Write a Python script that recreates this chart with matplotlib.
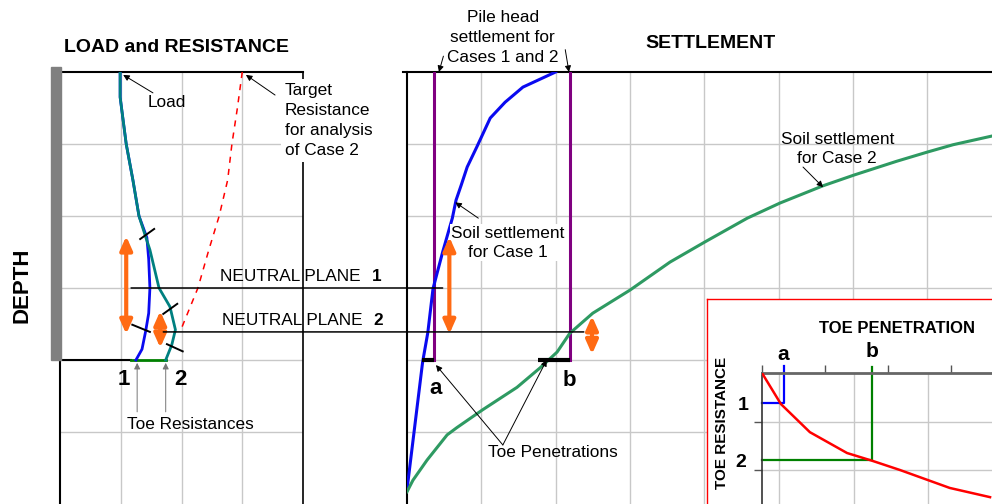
import matplotlib
matplotlib.use("Agg")
import matplotlib.pyplot as plt
from matplotlib.patches import Rectangle, ConnectionPatch

plt.rcParams["font.family"] = ["Liberation Sans", "DejaVu Sans"]

W, H = 992, 504

# depth in grid units: 0 = pile head, 4 = pile toe
# --- LOAD and RESISTANCE panel (x in grid units) ---
load2_depth = [0.0, 0.35, 1.0, 1.5, 2.0, 2.29, 2.47, 3.0, 3.26, 3.58, 3.79, 4.0]
load2 = [0.99, 0.99, 1.09, 1.2, 1.3, 1.41, 1.48, 1.63, 1.81, 1.9, 1.84, 1.74]
load1_depth = [0.0, 0.35, 1.0, 1.5, 2.0, 2.3, 2.6, 3.0, 3.35, 3.6, 3.85, 4.0]
load1 = [0.99, 0.99, 1.09, 1.2, 1.3, 1.43, 1.46, 1.48, 1.46, 1.41, 1.35, 1.25]
target_depth = [0.0, 0.5, 1.0, 1.5, 2.0, 2.47, 3.0, 3.6]
target_res = [3.0, 2.92, 2.83, 2.76, 2.62, 2.45, 2.27, 1.98]
toe_res = [1.17, 1.74]
np_depth = [3.0, 3.61]
np_start = [1.17, 1.70]
np_end = [0.48, 2.38]

# --- SETTLEMENT panel ---
pile_head = [0.37, 2.19]
soil1_depth = [0.0, 0.21, 0.42, 0.64, 1.04, 1.32, 1.57, 1.78, 2.03, 2.5, 3.01, 3.62, 4.03, 5.8]
soil1 = [2.0, 1.56, 1.32, 1.12, 0.94, 0.81, 0.73, 0.66, 0.61, 0.48, 0.35, 0.28, 0.21, 0.0]
soil2_depth = [5.83, 5.67, 5.39, 5.04, 4.94, 4.69, 4.38, 4.11, 3.89, 3.63, 3.35, 3.03,
               2.64, 2.36, 2.03, 1.82, 1.58, 1.43, 1.24, 1.11, 1.01, 0.89]
soil2 = [0.0, 0.08, 0.27, 0.54, 0.67, 1.02, 1.48, 1.79, 2.02, 2.19, 2.50, 3.00,
         3.54, 4.01, 4.58, 5.02, 5.60, 6.02, 6.59, 7.01, 7.35, 7.87]
toe_pen_a = [0.20, 0.37]
toe_pen_b = [1.76, 2.20]

# --- TOE PENETRATION inset ---
pen = [0.0, 0.30, 0.76, 1.35, 1.75, 2.19, 2.98, 3.62]
pen_res = [0.0, 0.64, 1.22, 1.65, 1.81, 2.0, 2.37, 2.56]
pen_a, res_1 = 0.35, 0.62
pen_b, res_2 = 1.75, 1.79

TEAL = "#008080"
BLUE = "#0A0AF0"
GREEN = "#008000"
SEA = "#2E9A62"
PURPLE = "#800080"
ORANGE = "#FF6A13"
GRID = "#C8C8C8"
FS = 12.4


def box(x0, y0, x1, y1):
    """pixel box -> figure fraction rect"""
    return [x0 / W, 1 - y1 / H, (x1 - x0) / W, (y1 - y0) / H]


def thin_arrow(ax, xy, xytext, color="black"):
    ax.annotate("", xy=xy, xytext=xytext,
                arrowprops=dict(arrowstyle="-|>", color=color, lw=0.7,
                                mutation_scale=9, shrinkA=0, shrinkB=0))


def orange_arrow(ax, x, d0, d1):
    ax.annotate("", xy=(x, d1), xytext=(x, d0),
                arrowprops=dict(arrowstyle="<|-|>,head_length=0.45,head_width=0.2",
                                color=ORANGE, lw=3, mutation_scale=18,
                                shrinkA=0, shrinkB=0), zorder=6)


fig = plt.figure(figsize=(W / 100, H / 100), dpi=100)

# ================= LOAD and RESISTANCE =================
ax1 = fig.add_axes(box(60, 72, 303, 504))
ax1.set_xlim(0, 4)
ax1.set_ylim(6, 0)
ax1.set_xticks([1, 2, 3])
ax1.set_yticks([1, 2, 3, 4, 5])
ax1.grid(color=GRID, lw=1)
ax1.tick_params(length=0, labelleft=False, labelbottom=False)
ax1.set_axisbelow(True)
for s in ax1.spines.values():
    s.set_visible(False)

ax1.add_patch(Rectangle((-0.15, -0.07), 0.17, 4.07, color="#808080", clip_on=False, zorder=3))
ax1.plot([0, 4], [0, 0], color="black", lw=1.5, clip_on=False)
ax1.plot([4, 4], [0, 6], color="black", lw=1.2, clip_on=False)
ax1.plot([0, 0], [4, 6], color="black", lw=1.5, clip_on=False)
ax1.plot([0, toe_res[0]], [4, 4], color="black", lw=1.5)
ax1.plot(toe_res, [4, 4], color=GREEN, lw=2)

ax1.plot(target_res, target_depth, color="red", lw=1.1, dashes=(4, 4))
ax1.plot(load1, load1_depth, color=BLUE, lw=2)
ax1.plot(load2, load2_depth, color=TEAL, lw=2)

# short marks on the load curves
for (xa, da), (xb, db) in [((1.32, 2.32), (1.55, 2.18)), ((1.19, 3.51), (1.48, 3.61)),
                           ((1.70, 3.36), (1.93, 3.22)), ((1.76, 3.78), (2.02, 3.88))]:
    ax1.plot([xa, xb], [da, db], color="black", lw=1.4, zorder=5)

orange_arrow(ax1, 1.09, 2.28, 3.64)
orange_arrow(ax1, 1.65, 3.32, 3.83)

ax1.text(1.76, 0.42, "Load", fontsize=FS, ha="center", va="center")
thin_arrow(ax1, (1.04, 0.04), (1.53, 0.29))
ax1.text(3.70, 0.15, "Target\nResistance\nfor analysis\nof Case 2", fontsize=FS,
         ha="left", va="top", linespacing=1.42, zorder=6,
         bbox=dict(facecolor="white", edgecolor="none", pad=3))
thin_arrow(ax1, (3.06, 0.04), (3.54, 0.32))

ax1.text(1.05, 4.27, "1", fontsize=16, fontweight="bold", ha="center", va="center")
ax1.text(1.98, 4.27, "2", fontsize=16, fontweight="bold", ha="center", va="center")
ax1.text(2.14, 4.9, "Toe Resistances", fontsize=FS, ha="center", va="center")
thin_arrow(ax1, (1.27, 4.04), (1.27, 4.72), color="#777777")
thin_arrow(ax1, (1.74, 4.04), (1.74, 4.72), color="#777777")

for d, label, lx in zip(np_depth, ["1", "2"], [2.63, 2.66]):
    ax1.text(lx, d - 0.16, "NEUTRAL PLANE", fontsize=FS, ha="left", va="center")
    ax1.text(lx + 2.5, d - 0.16, label, fontsize=FS, fontweight="bold",
             ha="left", va="center")

# ================= SETTLEMENT =================
ax2 = fig.add_axes(box(407, 72, 992, 504))
ax2.set_xlim(0, 585 / 74.3)
ax2.set_ylim(6, 0)
ax2.set_xticks(range(1, 8))
ax2.set_yticks([1, 2, 3, 4, 5])
ax2.grid(color=GRID, lw=1)
ax2.tick_params(length=0, labelleft=False, labelbottom=False)
ax2.set_axisbelow(True)
for s in ax2.spines.values():
    s.set_visible(False)

ax2.plot([-0.05, 585 / 74.3], [0, 0], color="black", lw=1.5, clip_on=False)
ax2.plot([0, 0], [0, 6], color="black", lw=1.5, clip_on=False)

for x in pile_head:
    ax2.plot([x, x], [0, 4], color=PURPLE, lw=2.2)
ax2.plot(soil1, soil1_depth, color=BLUE, lw=2.2)
ax2.plot(soil2, soil2_depth, color=SEA, lw=2.2)
ax2.plot(toe_pen_a, [4, 4], color="black", lw=3, solid_capstyle="butt", zorder=4)
ax2.plot(toe_pen_b, [4, 4], color="black", lw=3, solid_capstyle="butt", zorder=4)

orange_arrow(ax2, 0.57, 2.29, 3.64)
orange_arrow(ax2, 2.49, 3.39, 3.92)

ax2.text(1.29, -0.48, "Pile head\nsettlement for\nCases 1 and 2", fontsize=FS,
         ha="center", va="center", linespacing=1.42)
thin_arrow(ax2, (0.43, 0.0), (0.49, -0.22))
thin_arrow(ax2, (2.18, 0.0), (2.13, -0.31))

ax2.text(1.36, 2.37, "Soil settlement\nfor Case 1", fontsize=FS, ha="center",
         va="center", linespacing=1.32, zorder=5,
         bbox=dict(facecolor="white", edgecolor="none", pad=1))
thin_arrow(ax2, (0.65, 1.81), (0.96, 2.03))

ax2.text(5.79, 1.07, "Soil settlement\nfor Case 2", fontsize=FS, ha="center",
         va="center", linespacing=1.32)
thin_arrow(ax2, (5.60, 1.60), (5.33, 1.32))

ax2.text(1.97, 5.29, "Toe Penetrations", fontsize=FS, ha="center", va="center")
thin_arrow(ax2, (0.39, 4.07), (1.29, 5.18))
thin_arrow(ax2, (1.88, 4.0), (1.29, 5.18))

ax2.text(0.39, 4.40, "a", fontsize=16, fontweight="bold", ha="center", va="center")
ax2.text(2.18, 4.29, "b", fontsize=16, fontweight="bold", ha="center", va="center")

# neutral plane lines from the load panel into the settlement panel
for d, x0, x1 in zip(np_depth, np_start, np_end):
    con = ConnectionPatch(xyA=(x0, d), coordsA=ax1.transData,
                          xyB=(x1, d), coordsB=ax2.transData,
                          color="black", lw=1.1, zorder=5)
    fig.add_artist(con)

# ================= TOE PENETRATION inset =================
frame = fig.add_axes(box(707, 299, 1010, 520), zorder=4)
frame.set_facecolor("white")
frame.set_xticks([])
frame.set_yticks([])
for s in frame.spines.values():
    s.set_color("red")
    s.set_linewidth(1)

ax3 = fig.add_axes(box(762, 373, 992, 504), zorder=5)
ax3.set_facecolor("none")
ax3.set_xlim(0, 230 / 63)
ax3.set_ylim(131 / 48.5, 0)
ax3.xaxis.tick_top()
ax3.set_xticks([0, 1, 2, 3])
ax3.set_yticks([1, 2])
ax3.tick_params(axis="both", direction="out", length=6, width=1, color="#555555",
                labeltop=False, labelleft=False, labelbottom=False)
ax3.spines["bottom"].set_visible(False)
ax3.spines["right"].set_visible(False)
ax3.spines["top"].set_color("#666666")
ax3.spines["top"].set_linewidth(2)
ax3.spines["left"].set_color("#333333")
ax3.spines["left"].set_linewidth(1.2)
for gx in [0.27, 1.46, 2.63]:
    ax3.axvline(gx, color=GRID, lw=1, zorder=0)
for gy in [1, 2]:
    ax3.axhline(gy, color=GRID, lw=1, zorder=0)

ax3.plot(pen, pen_res, color="red", lw=1.8, zorder=4)
ax3.plot([0, pen_a, pen_a], [res_1, res_1, -0.14], color="blue", lw=1.6, clip_on=False)
ax3.plot([0, pen_b, pen_b], [res_2, res_2, -0.12], color=GREEN, lw=1.6, clip_on=False)

ax3.text(2.14, -0.91, "TOE PENETRATION", fontsize=12, fontweight="bold",
         ha="center", va="center")
ax3.text(0.33, -0.39, "a", fontsize=15, fontweight="bold", ha="center", va="center")
ax3.text(1.75, -0.45, "b", fontsize=15, fontweight="bold", ha="center", va="center")
ax3.text(-0.30, 0.66, "1", fontsize=14, fontweight="bold", ha="center", va="center")
ax3.text(-0.33, 1.84, "2", fontsize=14, fontweight="bold", ha="center", va="center")
ax3.text(-0.63, 1.03, "TOE RESISTANCE", fontsize=11, fontweight="bold",
         ha="center", va="center", rotation=90)

# titles
fig.text(176 / W, 1 - 47 / H, "LOAD and RESISTANCE", fontsize=14, fontweight="bold",
         ha="center", va="center")
fig.text(710 / W, 1 - 44 / H, "SETTLEMENT", fontsize=14, fontweight="bold",
         ha="center", va="center")
fig.text(22 / W, 1 - 285 / H, "DEPTH", fontsize=16, fontweight="bold",
         ha="center", va="center", rotation=90)

fig.savefig("out.png", dpi=100)
